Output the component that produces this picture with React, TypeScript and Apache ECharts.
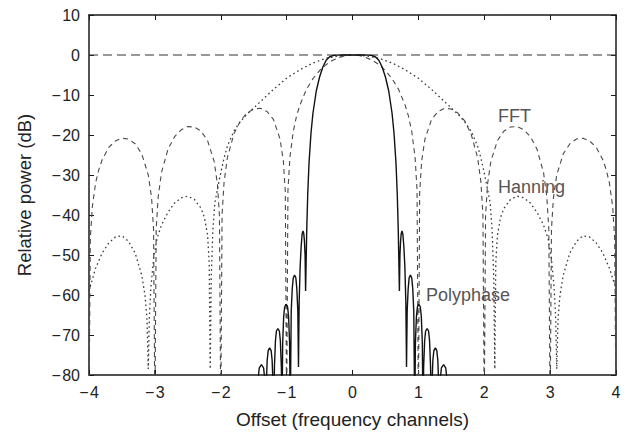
import React, { useEffect, useRef } from "react";
import * as echarts from "echarts";

const FONT = '"Liberation Sans", Arial, Helvetica, sans-serif';

const xTickValues = [-4, -3, -2, -1, 0, 1, 2, 3, 4];
const yTickValues = [-80, -70, -60, -50, -40, -30, -20, -10, 0, 10];

const zeroLine: [number, number][] = [
  [-4, 0],
  [4, 0],
];

const fftCurve: [number, number][] = [
  [-4, -90], [-3.98, -46], [-3.95, -38], [-3.9, -32], [-3.85, -28.6], [-3.8, -26.2], [-3.7, -23.1], [-3.6, -21.5], [-3.5, -20.8], [-3.4, -21.0], [-3.3, -22.2], [-3.2, -24.7], [-3.1, -30], [-3.05, -35.7], [-3.02, -43.6], [-3, -90],
  [-2.98, -43.5], [-2.95, -35.5], [-2.9, -29.4], [-2.8, -23.5], [-2.7, -20.4], [-2.6, -18.7], [-2.5, -17.9], [-2.4, -18.0], [-2.3, -19.0], [-2.2, -21.4], [-2.1, -26.6], [-2.05, -32.3], [-2.02, -40.1], [-2, -90],
  [-1.98, -39.9], [-1.95, -31.9], [-1.9, -25.7], [-1.8, -19.7], [-1.7, -16.4], [-1.6, -14.5], [-1.5, -13.5], [-1.4, -13.3], [-1.3, -14.1], [-1.2, -16.1], [-1.1, -21.0], [-1.05, -26.5], [-1.02, -34.2], [-1, -90],
  [-0.98, -33.8], [-0.95, -25.6], [-0.9, -19.2], [-0.85, -15.3], [-0.8, -12.6], [-0.7, -8.6], [-0.6, -5.9], [-0.5, -3.9], [-0.4, -2.4], [-0.3, -1.3], [-0.2, -0.6], [-0.1, -0.1], [0, 0],
  [0.1, -0.1], [0.2, -0.6], [0.3, -1.3], [0.4, -2.4], [0.5, -3.9], [0.6, -5.9], [0.7, -8.6], [0.8, -12.6], [0.85, -15.3], [0.9, -19.2], [0.95, -25.6], [0.98, -33.8], [1, -90],
  [1.02, -34.2], [1.05, -26.5], [1.1, -21.0], [1.2, -16.1], [1.3, -14.1], [1.4, -13.3], [1.5, -13.5], [1.6, -14.5], [1.7, -16.4], [1.8, -19.7], [1.9, -25.7], [1.95, -31.9], [1.98, -39.9], [2, -90],
  [2.02, -40.1], [2.05, -32.3], [2.1, -26.6], [2.2, -21.4], [2.3, -19.0], [2.4, -18.0], [2.5, -17.9], [2.6, -18.7], [2.7, -20.4], [2.8, -23.5], [2.9, -29.4], [2.95, -35.5], [2.98, -43.5], [3, -90],
  [3.02, -43.6], [3.05, -35.7], [3.1, -30], [3.2, -24.7], [3.3, -22.2], [3.4, -21.0], [3.5, -20.8], [3.6, -21.5], [3.7, -23.1], [3.8, -26.2], [3.85, -28.6], [3.9, -32], [3.95, -38], [3.98, -46], [4, -90],
];

const hanningCurve: [number, number][] = [
  [-4, -59], [-3.9, -53.3], [-3.8, -49.5], [-3.7, -47.0], [-3.6, -45.5], [-3.5, -45.2], [-3.4, -46.6], [-3.3, -49.5], [-3.2, -55], [-3.15, -60], [-3.12, -66], [-3.1, -78.5],
  [-3.085, -66], [-3.06, -58], [-3.02, -51], [-2.97, -46], [-2.9, -42.5], [-2.8, -39.3], [-2.7, -37], [-2.6, -35.7], [-2.5, -35.3], [-2.4, -36.1], [-2.3, -38.3], [-2.25, -40.5], [-2.2, -45], [-2.175, -52], [-2.16, -78.5],
  [-2.145, -56], [-2.12, -44], [-2.09, -37], [-2.05, -33.5], [-2, -29.5], [-1.95, -25.8], [-1.9, -22.8], [-1.8, -19], [-1.7, -16.6], [-1.6, -14.8], [-1.4, -11.7], [-1.2, -8.6], [-1, -5.8], [-0.8, -3.7], [-0.6, -2], [-0.4, -0.8], [-0.2, -0.2], [0, 0],
  [0.2, -0.2], [0.4, -0.8], [0.6, -2], [0.8, -3.7], [1, -5.8], [1.2, -8.6], [1.4, -11.7], [1.6, -14.8], [1.7, -16.6], [1.8, -19], [1.9, -22.8], [1.95, -25.8], [2, -29.5], [2.05, -33.5], [2.09, -37], [2.12, -44], [2.145, -56], [2.16, -78.5],
  [2.175, -52], [2.2, -45], [2.25, -40.5], [2.3, -38.3], [2.4, -36.1], [2.5, -35.3], [2.6, -35.7], [2.7, -37], [2.8, -39.3], [2.9, -42.5], [2.97, -46], [3.02, -51], [3.06, -58], [3.085, -66], [3.1, -78.5],
  [3.12, -66], [3.15, -60], [3.2, -55], [3.3, -49.5], [3.4, -46.6], [3.5, -45.2], [3.6, -45.5], [3.7, -47.0], [3.8, -49.5], [3.9, -53.3], [4, -58.4],
];

const polyphaseCurve: [number, number][] = [
  [-1.445, -90], [-1.43, -80.5], [-1.415, -78.2], [-1.383, -77.4], [-1.35, -78.2], [-1.335, -80.5], [-1.32, -90],
  [-1.31, -83], [-1.295, -76.3], [-1.28, -73.9], [-1.258, -73.2], [-1.235, -73.9], [-1.22, -76.3], [-1.205, -83], [-1.195, -90],
  [-1.185, -78], [-1.17, -71.5], [-1.155, -69], [-1.133, -68.4], [-1.11, -69], [-1.095, -71.5], [-1.08, -78], [-1.07, -90],
  [-1.06, -72], [-1.045, -65.5], [-1.03, -63], [-1.008, -62.3], [-0.985, -63], [-0.97, -65.5], [-0.955, -72], [-0.945, -90],
  [-0.93, -64], [-0.915, -58.5], [-0.9, -55.8], [-0.88, -55], [-0.86, -55.7], [-0.845, -58.5], [-0.83, -64], [-0.82, -78],
  [-0.81, -62], [-0.795, -53], [-0.78, -48], [-0.765, -44.8], [-0.752, -44], [-0.74, -44.6], [-0.73, -46.5], [-0.72, -50], [-0.712, -59],
  [-0.695, -44], [-0.68, -35], [-0.66, -27], [-0.63, -19.5], [-0.6, -14.5], [-0.55, -9], [-0.5, -5.5], [-0.45, -3], [-0.4, -1.3], [-0.35, -0.5], [-0.3, -0.15], [-0.25, -0.03], [-0.2, 0], [0, 0],
  [0.2, 0], [0.25, -0.03], [0.3, -0.15], [0.35, -0.5], [0.4, -1.3], [0.45, -3], [0.5, -5.5], [0.55, -9], [0.6, -14.5], [0.63, -19.5], [0.66, -27], [0.68, -35], [0.695, -44], [0.712, -59],
  [0.72, -50], [0.73, -46.5], [0.74, -44.6], [0.752, -44], [0.765, -44.8], [0.78, -48], [0.795, -53], [0.81, -62], [0.82, -78],
  [0.83, -64], [0.845, -58.5], [0.86, -55.7], [0.88, -55], [0.9, -55.8], [0.915, -58.5], [0.93, -64], [0.945, -90],
  [0.955, -72], [0.97, -65.5], [0.985, -63], [1.008, -62.3], [1.03, -63], [1.045, -65.5], [1.06, -72], [1.07, -90],
  [1.08, -78], [1.095, -71.5], [1.11, -69], [1.133, -68.4], [1.155, -69], [1.17, -71.5], [1.185, -78], [1.195, -90],
  [1.205, -83], [1.22, -76.3], [1.235, -73.9], [1.258, -73.2], [1.28, -73.9], [1.295, -76.3], [1.31, -83], [1.32, -90],
  [1.335, -80.5], [1.35, -78.2], [1.383, -77.4], [1.415, -78.2], [1.43, -80.5], [1.445, -90],
];

const annotations = [
  { text: "FFT", x: 498, y: 115.5 },
  { text: "Hanning", x: 498, y: 187 },
  { text: "Polyphase", x: 426, y: 295 },
];

const fmt = (v: number) => (v < 0 ? "\u2212\u200A" + Math.abs(v) : String(v));

export default function App() {
  const ref = useRef<HTMLDivElement>(null);
  useEffect(() => {
    if (!ref.current) return;
    const chart = echarts.init(ref.current, null, { renderer: "svg" });
    const axisLine = { show: true, onZero: false, lineStyle: { color: "#1a1a1a", width: 1.5 } };
    const axisTick = { show: true, inside: true, length: 5, lineStyle: { color: "#1a1a1a", width: 1 } };
    const xMin = xTickValues[0];
    const xMax = xTickValues[xTickValues.length - 1];
    const yMin = yTickValues[0];
    const yMax = yTickValues[yTickValues.length - 1];
    chart.setOption({
      animation: false,
      backgroundColor: "#fff",
      grid: { left: 89, right: 15, top: 15, bottom: 58, containLabel: false },
      xAxis: [
        {
          type: "value", min: xMin, max: xMax, interval: 1, position: "bottom",
          axisLine, axisTick, splitLine: { show: false },
          axisLabel: { fontSize: 16, color: "#222", margin: 9, fontFamily: FONT, formatter: fmt },
          name: "Offset (frequency channels)", nameLocation: "middle", nameGap: 35,
          nameTextStyle: { fontSize: 19, color: "#222", fontFamily: FONT },
        },
        {
          type: "value", min: xMin, max: xMax, interval: 1, position: "top",
          axisLine, axisTick, splitLine: { show: false }, axisLabel: { show: false },
        },
      ],
      yAxis: [
        {
          type: "value", min: yMin, max: yMax, interval: 10, position: "left",
          axisLine, axisTick, splitLine: { show: false },
          axisLabel: { fontSize: 16, color: "#222", margin: 9, fontFamily: FONT, formatter: fmt },
          name: "Relative power (dB)", nameLocation: "middle", nameGap: 55,
          nameTextStyle: { fontSize: 18.5, color: "#222", fontFamily: FONT },
        },
        {
          type: "value", min: yMin, max: yMax, interval: 10, position: "right",
          axisLine, axisTick, splitLine: { show: false }, axisLabel: { show: false },
        },
      ],
      series: [
        {
          name: "zero", type: "line", data: zeroLine, symbol: "none", silent: true,
          lineStyle: { color: "#333", width: 1.2, type: [9, 5] },
        },
        {
          name: "FFT", type: "line", data: fftCurve, symbol: "none", clip: true,
          lineStyle: { color: "#4a4a4a", width: 1.1, type: [5, 4] },
        },
        {
          name: "Hanning", type: "line", data: hanningCurve, symbol: "none", clip: true,
          lineStyle: { color: "#3a3a3a", width: 1.3, type: [1.6, 3] },
        },
        {
          name: "Polyphase", type: "line", data: polyphaseCurve, symbol: "none", clip: true,
          lineStyle: { color: "#111", width: 1.4 },
        },
      ],
      graphic: annotations.map((a) => ({
        type: "text", x: a.x, y: a.y, silent: true,
        style: { text: a.text, fontSize: 18, fontFamily: FONT, fill: "#555", verticalAlign: "middle", align: "left" },
      })),
    });
    return () => chart.dispose();
  }, []);
  return <div ref={ref} style={{ position: "fixed", left: 0, top: 0, width: 631, height: 434 }} />;
}
